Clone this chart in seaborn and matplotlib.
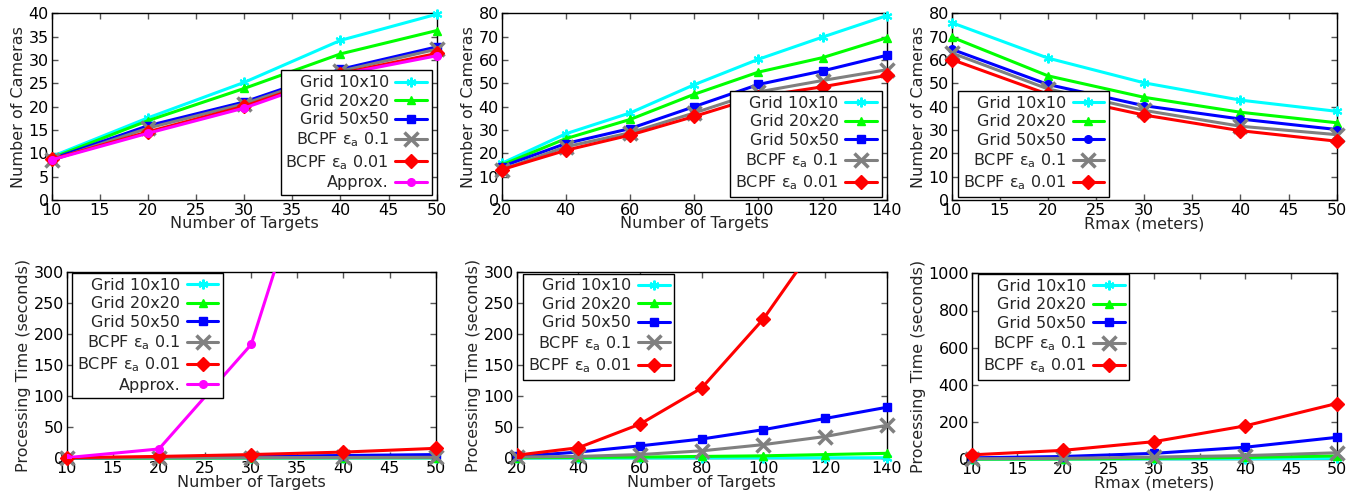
import numpy as np
import pandas as pd
import matplotlib
matplotlib.use("Agg")
import matplotlib.pyplot as plt
import seaborn as sns

# ---------------- data ----------------
targets_a = [10, 20, 30, 40, 50]
targets_b = [20, 40, 60, 80, 100, 120, 140]
rmax = [10, 20, 30, 40, 50]

labels = ["Grid 10x10", "Grid 20x20", "Grid 50x50",
          "BCPF ε$_{\\mathrm{a}}$ 0.1", "BCPF ε$_{\\mathrm{a}}$ 0.01", "Approx."]

# Number of cameras vs number of targets (10..50)
cam_a_g10 = [9.3, 17.6, 25.2, 34.2, 39.8]
cam_a_g20 = [9.0, 17.0, 23.9, 31.3, 36.3]
cam_a_g50 = [8.8, 15.9, 21.0, 28.0, 32.8]
cam_a_b01 = [8.5, 15.4, 20.6, 27.6, 32.3]
cam_a_b001 = [8.7, 14.6, 20.1, 27.1, 31.4]
cam_a_apx = [8.6, 14.3, 19.7, 26.9, 30.9]

# Number of cameras vs number of targets (20..140)
cam_b_g10 = [15.7, 28.4, 37.3, 49.4, 60.3, 69.8, 79.0]
cam_b_g20 = [15.0, 26.3, 34.5, 45.3, 54.8, 61.0, 69.5]
cam_b_g50 = [14.3, 24.2, 30.6, 40.0, 49.5, 55.3, 62.0]
cam_b_b01 = [13.0, 22.8, 28.8, 37.3, 46.3, 51.2, 55.8]
cam_b_b001 = [13.0, 21.3, 27.8, 35.8, 44.3, 48.5, 53.4]

# Number of cameras vs Rmax
cam_r_g10 = [76.0, 60.8, 50.2, 42.8, 38.0]
cam_r_g20 = [69.8, 53.2, 44.0, 37.6, 33.1]
cam_r_g50 = [64.6, 49.5, 40.4, 34.7, 30.2]
cam_r_b01 = [63.0, 47.6, 38.4, 31.6, 28.0]
cam_r_b001 = [60.2, 45.3, 36.4, 29.7, 25.2]

# Processing time vs number of targets (10..50)
t_a_g10 = [0.2, 0.3, 0.4, 0.5, 0.6]
t_a_g20 = [0.3, 0.5, 0.7, 0.9, 1.1]
t_a_g50 = [0.6, 1.5, 3.0, 4.5, 6.0]
t_a_b01 = [0.5, 0.8, 1.0, 1.3, 1.6]
t_a_b001 = [1.0, 3.0, 6.0, 10.0, 16.0]
t_a_apx = [1.0, 15.0, 183.0, 650.0, 2000.0]

# Processing time vs number of targets (20..140)
t_b_g10 = [0.3, 0.4, 0.5, 0.6, 0.7, 0.8, 0.9]
t_b_g20 = [1.0, 1.5, 2.0, 3.0, 4.0, 6.0, 8.0]
t_b_g50 = [3.0, 10.0, 20.0, 31.0, 46.0, 64.0, 82.0]
t_b_b01 = [2.0, 3.0, 6.0, 12.0, 22.0, 35.0, 53.0]
t_b_b001 = [5.0, 17.0, 55.0, 113.0, 224.0, 365.0, 600.0]

# Processing time vs Rmax
t_r_g10 = [1.0, 1.5, 2.0, 3.0, 5.0]
t_r_g20 = [1.0, 2.0, 5.0, 10.0, 18.0]
t_r_g50 = [8.0, 15.0, 32.0, 65.0, 118.0]
t_r_b01 = [3.0, 5.0, 12.0, 20.0, 35.0]
t_r_b001 = [24.0, 48.0, 95.0, 180.0, 300.0]

# ---------------- style ----------------
sns.set_style("ticks", {
    "xtick.direction": "in", "ytick.direction": "in",
    "xtick.top": True, "ytick.right": True,
    "axes.edgecolor": "black",
})
plt.rcParams["font.family"] = ["DejaVu Sans"]
plt.rcParams["mathtext.fontset"] = "dejavusans"
FS = 11.5
plt.rcParams.update({
    "xtick.labelsize": FS, "ytick.labelsize": FS, "axes.labelsize": FS,
    "xtick.major.size": 4, "ytick.major.size": 4,
    "xtick.major.width": 1, "ytick.major.width": 1,
    "xtick.color": "#555555", "ytick.color": "#555555",
    "xtick.labelcolor": "black", "ytick.labelcolor": "black",
    "xtick.major.pad": 2, "ytick.major.pad": 2,
    "axes.linewidth": 1.0,
})

colors = ["#00FFFF", "#00FF00", "#0000FF", "#808080", "#FF0000", "#FF00FF"]
asterisk = (6, 2, 0)
mk = [asterisk, "^", "s", "x", "D", "o"]
ms = [7, 6, 5.5, 10, 7.5, 5.5]
mew = [1.5, 1, 1, 2.5, 1, 1]

fig = plt.figure(figsize=(13.61, 4.95), dpi=100)
W, H = 1361.0, 495.0

def ax_at(x0, x1, ytop, ybot):
    return fig.add_axes([x0 / W, 1 - ybot / H, (x1 - x0) / W, (ybot - ytop) / H])

def draw(ax, x, series, markers=None, clip_idx=()):
    markers = markers or mk
    for i, y in enumerate(series):
        df = pd.DataFrame({"x": x, "y": y})
        sns.lineplot(data=df, x="x", y="y", ax=ax, color=colors[i], lw=2.2,
                     marker=markers[i], markersize=ms[i], markeredgecolor=colors[i],
                     markerfacecolor=colors[i], markeredgewidth=mew[i],
                     label=labels[i], clip_on=(i in clip_idx), zorder=2 + i,
                     sort=False, errorbar=None)

def legend(ax, loc, anchor):
    leg = ax.legend(loc=loc, bbox_to_anchor=anchor, markerfirst=False, numpoints=1,
                    fancybox=False, framealpha=1, edgecolor="black", fontsize=FS,
                    handlelength=2.0, handletextpad=0.4, labelspacing=0.22,
                    borderpad=0.3, borderaxespad=0)
    leg.get_frame().set_linewidth(1.0)
    leg.set_zorder(20)

# ---- top row ----
ax1 = ax_at(51.7, 436.7, 13.3, 200)
draw(ax1, targets_a, [cam_a_g10, cam_a_g20, cam_a_g50, cam_a_b01, cam_a_b001, cam_a_apx])
ax1.set_xlim(10, 50); ax1.set_ylim(0, 40)
ax1.set_xticks(range(10, 51, 5)); ax1.set_yticks(range(0, 41, 5))
ax1.set_xlabel("Number of Targets", labelpad=-1)
ax1.set_ylabel("Number of Cameras", labelpad=2)
legend(ax1, "lower right", (0.988, 0.027))

ax2 = ax_at(501.7, 886.7, 13.3, 200)
draw(ax2, targets_b, [cam_b_g10, cam_b_g20, cam_b_g50, cam_b_b01, cam_b_b001])
ax2.set_xlim(20, 140); ax2.set_ylim(0, 80)
ax2.set_xticks(range(20, 141, 20)); ax2.set_yticks(range(0, 81, 10))
ax2.set_xlabel("Number of Targets", labelpad=-1)
ax2.set_ylabel("Number of Cameras", labelpad=2)
legend(ax2, "lower right", (0.987, 0.016))

ax3 = ax_at(951.7, 1336.7, 13.3, 200)
draw(ax3, rmax, [cam_r_g10, cam_r_g20, cam_r_g50, cam_r_b01, cam_r_b001],
     markers=[asterisk, "^", "o", "x", "D"])
ax3.set_xlim(10, 50); ax3.set_ylim(0, 80)
ax3.set_xticks(range(10, 51, 5)); ax3.set_yticks(range(0, 81, 10))
ax3.set_xlabel("Rmax (meters)", labelpad=-1)
ax3.set_ylabel("Number of Cameras", labelpad=2)
legend(ax3, "lower left", (0.016, 0.016))

# ---- bottom row ----
ax4 = ax_at(66.7, 435.7, 271.7, 458.3)
draw(ax4, targets_a, [t_a_g10, t_a_g20, t_a_g50, t_a_b01, t_a_b001, t_a_apx], clip_idx=(5,))
ax4.set_xlim(10, 50); ax4.set_ylim(0, 300)
ax4.set_xticks(range(10, 51, 5)); ax4.set_yticks(range(0, 301, 50))
ax4.set_xlabel("Number of Targets", labelpad=-1)
ax4.set_ylabel("Processing Time (seconds)", labelpad=2)
legend(ax4, "upper left", (0.014, 0.993))

ax5 = ax_at(516.7, 886.7, 271.7, 458.3)
draw(ax5, targets_b, [t_b_g10, t_b_g20, t_b_g50, t_b_b01, t_b_b001], clip_idx=(4,))
ax5.set_xlim(20, 140); ax5.set_ylim(0, 300)
ax5.set_xticks(range(20, 141, 20)); ax5.set_yticks(range(0, 301, 50))
ax5.set_xlabel("Number of Targets", labelpad=-1)
ax5.set_ylabel("Processing Time (seconds)", labelpad=2)
legend(ax5, "upper left", (0.017, 0.99))

ax6 = ax_at(971.7, 1336.7, 273.3, 459.3)
draw(ax6, rmax, [t_r_g10, t_r_g20, t_r_g50, t_r_b01, t_r_b001])
ax6.set_xlim(10, 50); ax6.set_ylim(0, 1000)
ax6.set_xticks(range(10, 51, 5)); ax6.set_yticks(range(0, 1001, 200))
ax6.set_xlabel("Rmax (meters)", labelpad=-1)
ax6.set_ylabel("Processing Time (seconds)", labelpad=2)
legend(ax6, "upper left", (0.017, 0.996))

for ax in fig.axes:
    for s in ax.spines.values():
        s.set_zorder(1)

fig.savefig("out.png", dpi=100)
